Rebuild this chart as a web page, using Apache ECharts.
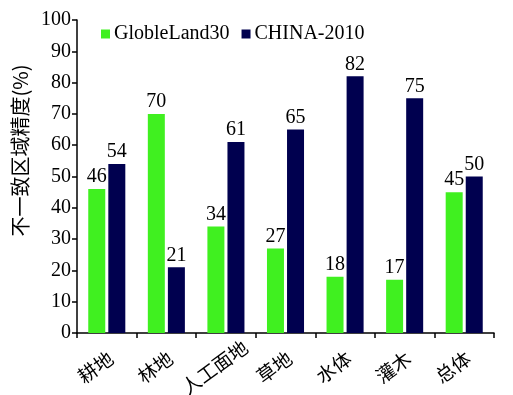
<!DOCTYPE html>
<html><head><meta charset="utf-8">
<script src="https://cdn.jsdelivr.net/npm/echarts@6/dist/echarts.min.js"></script>
<style>html,body{margin:0;padding:0;background:#fff}#c{width:513px;height:395px}</style>
</head><body><div id="c"></div>
<script>
const categories = ['耕地','林地','人工面地','草地','水体','灌木','总体'];
const globleland30 = [46,70,34,27,18,17,45];
const china2010 = [54,21,61,65,82,75,50];
const yTicks = [0,10,20,30,40,50,60,70,80,90,100];

const serif = '"Liberation Serif","Times New Roman",serif';
const cjk = '"Noto Sans CJK SC",sans-serif';
const chart = echarts.init(document.getElementById('c'));
chart.setOption({
  animation:false,
  backgroundColor:'#fff',
  grid:{left:77,right:19,top:20,bottom:62,containLabel:false,outerBoundsMode:'none'},
  legend:{
    top:19,left:96,itemWidth:9,itemHeight:9,itemGap:12,
    icon:'rect',
    textStyle:{fontFamily:serif,fontSize:20,color:'#000',padding:[0,0,0,-1]},
    data:['GlobleLand30','CHINA-2010']
  },
  xAxis:{
    type:'category',data:categories,
    axisLine:{lineStyle:{color:'#000',width:1.5}},
    axisTick:{show:true,length:5,lineStyle:{color:'#000',width:1.5}},
    axisLabel:{rotate:36,align:'center',verticalAlign:'middle',padding:[0,28,0,0],
      fontFamily:cjk,fontSize:19,color:'#000',margin:26,interval:0}
  },
  yAxis:{
    type:'value',min:yTicks[0],max:yTicks[yTicks.length-1],interval:10,
    name:'不一致区域精度(%)',nameLocation:'middle',nameGap:43,
    nameTextStyle:{fontFamily:cjk,fontSize:20,color:'#000',padding:[0,0,0,52]},
    axisLine:{show:true,lineStyle:{color:'#000',width:1.5}},
    axisTick:{show:true,length:5,lineStyle:{color:'#000',width:1.5}},
    splitLine:{show:false},
    axisLabel:{fontFamily:serif,fontSize:20,color:'#000',margin:6}
  },
  series:[
    {name:'GlobleLand30',type:'bar',data:globleland30,barWidth:17,barGap:'18%',
     itemStyle:{color:'#40F020'},
     label:{show:true,position:'top',distance:2,fontFamily:serif,fontSize:20,color:'#000'}},
    {name:'CHINA-2010',type:'bar',data:china2010,barWidth:17,
     itemStyle:{color:'#00004F'},
     label:{show:true,position:'top',distance:2,fontFamily:serif,fontSize:20,color:'#000'}}
  ]
});
</script></body></html>
